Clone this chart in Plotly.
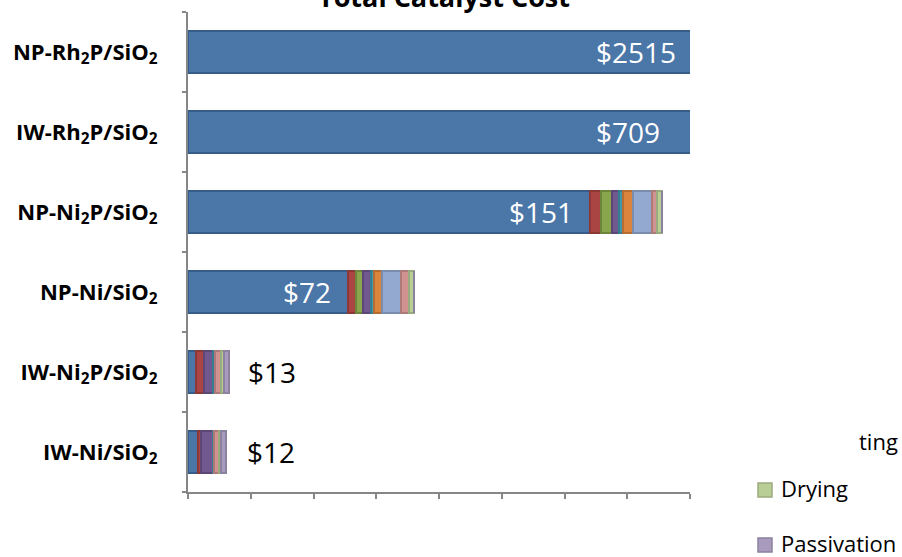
import plotly.graph_objects as go

# Catalysts, bottom to top
catalysts = ["IW-Ni/SiO2", "IW-Ni2P/SiO2", "NP-Ni/SiO2", "NP-Ni2P/SiO2", "IW-Rh2P/SiO2", "NP-Rh2P/SiO2"]
tick_labels = [
    "IW-Ni/SiO<sub>2</sub>",
    "IW-Ni<sub>2</sub>P/SiO<sub>2</sub>",
    "NP-Ni/SiO<sub>2</sub>",
    "NP-Ni<sub>2</sub>P/SiO<sub>2</sub>",
    "IW-Rh<sub>2</sub>P/SiO<sub>2</sub>",
    "NP-Rh<sub>2</sub>P/SiO<sub>2</sub>",
]

# Cost of each preparation step ($), same order as catalysts
materials    = [3.2, 2.5, 51.0, 128.0, 698.5, 2492.0]
impregnation = [1.0, 2.5, 2.4, 3.7, 2.5, 3.7]
mixing       = [0.0, 0.0, 2.5, 3.4, 0.0, 3.4]
filtration   = [3.7, 3.0, 2.4, 2.4, 3.0, 2.4]
washing      = [0.5, 0.5, 1.0, 1.0, 0.5, 1.0]
calcination  = [0.0, 0.0, 2.6, 3.2, 0.0, 3.2]
reduction    = [0.0, 0.0, 6.1, 6.2, 0.0, 6.2]
heating      = [1.4, 2.1, 2.4, 1.5, 2.1, 1.5]
drying       = [0.7, 0.8, 1.6, 1.6, 0.8, 1.6]
passivation  = [1.5, 1.6, 0.0, 0.0, 1.6, 0.0]

steps = [
    ("Materials", materials, "#4A76A8", "#385D8A"),
    ("Impregnation", impregnation, "#A94643", "#8C3836"),
    ("Mixing", mixing, "#89A54E", "#6E863C"),
    ("Filtration", filtration, "#71588F", "#5C4776"),
    ("Washing", washing, "#4198AF", "#357D91"),
    ("Calcination", calcination, "#DB843D", "#B66D31"),
    ("Reduction", reduction, "#93A9CF", "#7A8DAD"),
    ("Heating", heating, "#D19392", "#AE7A79"),
    ("Drying", drying, "#B9CD96", "#9AAB7D"),
    ("Passivation", passivation, "#A99BBD", "#8C819E"),
]

X_MAX = 160
W, H = 902, 557
L, R, T, B = 188, 212, 12, 65
PW, PH = W - L - R, H - T - B


def px_x(px):
    return (px - L) / PW


def px_y(py):
    return (H - B - py) / PH


fig = go.Figure()
for name, vals, fill, line in steps:
    fig.add_trace(go.Bar(
        y=catalysts, x=vals, name=name, orientation="h",
        marker=dict(color=fill, line=dict(color=line, width=2)),
        showlegend=False,
    ))

totals = [sum(s[1][i] for s in steps) for i in range(len(catalysts))]

# Total cost labels: white inside the first segment, black beyond short bars
label_shift = [19, 17, -15, -15, -28, -12]
for i, cat in enumerate(catalysts):
    inside = materials[i] > 30
    x_ref = min(materials[i], X_MAX) if inside else totals[i]
    fig.add_annotation(
        x=x_ref, y=cat, xref="x", yref="y",
        text=f"${round(totals[i])}", showarrow=False,
        xanchor="right" if inside else "left", xshift=label_shift[i],
        font=dict(family="Open Sans", size=28, color="white" if inside else "black"),
    )

# Title, partly above the page edge
fig.add_annotation(
    x=px_x(444), y=1, xref="paper", yref="paper", yshift=16,
    text="<b>Total Catalyst Cost</b>", showarrow=False,
    xanchor="center", yanchor="middle",
    font=dict(family="Open Sans", size=27, color="black"),
)

# Legend fragment
fig.add_annotation(
    x=px_x(857), y=px_y(441), xref="paper", yref="paper",
    text="ting", showarrow=False, xanchor="left", yanchor="middle",
    font=dict(family="Open Sans", size=22, color="black"),
)
for (name, _, fill, line), cy in zip(steps[8:], [490, 545]):
    fig.add_shape(
        type="rect", xref="paper", yref="paper",
        x0=px_x(758), x1=px_x(772), y0=px_y(cy + 7), y1=px_y(cy - 7),
        fillcolor=fill, line=dict(color=line, width=1.5),
    )
    fig.add_annotation(
        x=px_x(779), y=px_y(cy - 2), xref="paper", yref="paper",
        text=name, showarrow=False, xanchor="left", yanchor="middle",
        font=dict(family="Open Sans", size=22, color="black"),
    )

fig.update_layout(
    barmode="stack",
    bargap=0.475,
    width=W, height=H,
    margin=dict(l=L, r=R, t=T, b=B, pad=0),
    paper_bgcolor="white", plot_bgcolor="white",
    xaxis=dict(
        range=[0, X_MAX], tickvals=list(range(0, X_MAX + 1, 20)),
        showticklabels=False, ticks="outside", ticklen=5, tickwidth=2, tickcolor="#868686",
        showline=True, linecolor="#868686", linewidth=2,
        showgrid=False, zeroline=False,
    ),
    yaxis=dict(
        categoryorder="array", categoryarray=catalysts,
        tickvals=catalysts, ticktext=tick_labels,
        tickson="boundaries", ticks="outside", ticklen=4, tickwidth=2, tickcolor="#868686",
        showline=True, linecolor="#868686", linewidth=2,
        showgrid=False, zeroline=False,
        ticklabelstandoff=24,
        tickfont=dict(family="Open Sans", size=22, color="black", weight="bold"),
        range=[-0.5, 5.5],
    ),
)

fig.write_html("out.html")
